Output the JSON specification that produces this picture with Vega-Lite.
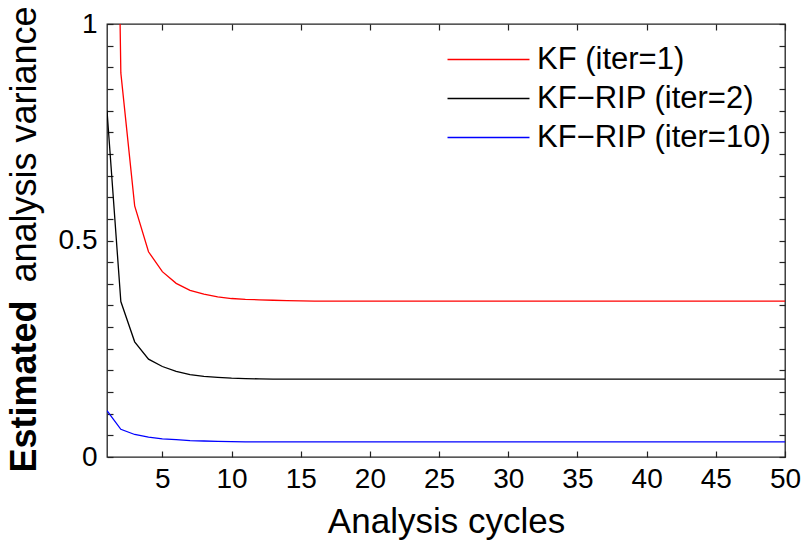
{
"$schema": "https://vega.github.io/schema/vega-lite/v6.json",
"width": 678, "height": 433,
"autosize": "none",
"padding": {"left": 107, "top": 24, "right": 22, "bottom": 87},
"background": "white",
"config": {"view": {"stroke": "#222", "strokeWidth": 1.3}, "font": "Liberation Sans",
  "axis": {"grid": false, "domain": false, "tickColor": "#222", "tickWidth": 1.2, "labelColor": "#000", "titleColor": "#000", "labelFont": "Liberation Sans", "titleFont": "Liberation Sans"}},
"data": {"values": [
{"c":1,"v":3.0,"m":"KF (iter=1)"},{"c":2,"v":0.887,"m":"KF (iter=1)"},{"c":3,"v":0.58,"m":"KF (iter=1)"},{"c":4,"v":0.474,"m":"KF (iter=1)"},{"c":5,"v":0.428,"m":"KF (iter=1)"},{"c":6,"v":0.401,"m":"KF (iter=1)"},{"c":7,"v":0.385,"m":"KF (iter=1)"},{"c":8,"v":0.376,"m":"KF (iter=1)"},{"c":9,"v":0.37,"m":"KF (iter=1)"},{"c":10,"v":0.366,"m":"KF (iter=1)"},
{"c":11,"v":0.364,"m":"KF (iter=1)"},{"c":12,"v":0.363,"m":"KF (iter=1)"},{"c":13,"v":0.362,"m":"KF (iter=1)"},{"c":14,"v":0.361,"m":"KF (iter=1)"},{"c":15,"v":0.3605,"m":"KF (iter=1)"},{"c":16,"v":0.36,"m":"KF (iter=1)"},{"c":17,"v":0.36,"m":"KF (iter=1)"},{"c":18,"v":0.36,"m":"KF (iter=1)"},{"c":19,"v":0.36,"m":"KF (iter=1)"},{"c":20,"v":0.36,"m":"KF (iter=1)"},
{"c":21,"v":0.36,"m":"KF (iter=1)"},{"c":22,"v":0.36,"m":"KF (iter=1)"},{"c":23,"v":0.36,"m":"KF (iter=1)"},{"c":24,"v":0.36,"m":"KF (iter=1)"},{"c":25,"v":0.36,"m":"KF (iter=1)"},{"c":26,"v":0.36,"m":"KF (iter=1)"},{"c":27,"v":0.36,"m":"KF (iter=1)"},{"c":28,"v":0.36,"m":"KF (iter=1)"},{"c":29,"v":0.36,"m":"KF (iter=1)"},{"c":30,"v":0.36,"m":"KF (iter=1)"},
{"c":31,"v":0.36,"m":"KF (iter=1)"},{"c":32,"v":0.36,"m":"KF (iter=1)"},{"c":33,"v":0.36,"m":"KF (iter=1)"},{"c":34,"v":0.36,"m":"KF (iter=1)"},{"c":35,"v":0.36,"m":"KF (iter=1)"},{"c":36,"v":0.36,"m":"KF (iter=1)"},{"c":37,"v":0.36,"m":"KF (iter=1)"},{"c":38,"v":0.36,"m":"KF (iter=1)"},{"c":39,"v":0.36,"m":"KF (iter=1)"},{"c":40,"v":0.36,"m":"KF (iter=1)"},
{"c":41,"v":0.36,"m":"KF (iter=1)"},{"c":42,"v":0.36,"m":"KF (iter=1)"},{"c":43,"v":0.36,"m":"KF (iter=1)"},{"c":44,"v":0.36,"m":"KF (iter=1)"},{"c":45,"v":0.36,"m":"KF (iter=1)"},{"c":46,"v":0.36,"m":"KF (iter=1)"},{"c":47,"v":0.36,"m":"KF (iter=1)"},{"c":48,"v":0.36,"m":"KF (iter=1)"},{"c":49,"v":0.36,"m":"KF (iter=1)"},{"c":50,"v":0.36,"m":"KF (iter=1)"},
{"c":1,"v":0.8,"m":"KF−RIP (iter=2)"},{"c":2,"v":0.359,"m":"KF−RIP (iter=2)"},{"c":3,"v":0.266,"m":"KF−RIP (iter=2)"},{"c":4,"v":0.226,"m":"KF−RIP (iter=2)"},{"c":5,"v":0.209,"m":"KF−RIP (iter=2)"},{"c":6,"v":0.198,"m":"KF−RIP (iter=2)"},{"c":7,"v":0.19,"m":"KF−RIP (iter=2)"},{"c":8,"v":0.186,"m":"KF−RIP (iter=2)"},{"c":9,"v":0.184,"m":"KF−RIP (iter=2)"},{"c":10,"v":0.182,"m":"KF−RIP (iter=2)"},
{"c":11,"v":0.181,"m":"KF−RIP (iter=2)"},{"c":12,"v":0.1805,"m":"KF−RIP (iter=2)"},{"c":13,"v":0.18,"m":"KF−RIP (iter=2)"},{"c":14,"v":0.18,"m":"KF−RIP (iter=2)"},{"c":15,"v":0.18,"m":"KF−RIP (iter=2)"},{"c":16,"v":0.18,"m":"KF−RIP (iter=2)"},{"c":17,"v":0.18,"m":"KF−RIP (iter=2)"},{"c":18,"v":0.18,"m":"KF−RIP (iter=2)"},{"c":19,"v":0.18,"m":"KF−RIP (iter=2)"},{"c":20,"v":0.18,"m":"KF−RIP (iter=2)"},
{"c":21,"v":0.18,"m":"KF−RIP (iter=2)"},{"c":22,"v":0.18,"m":"KF−RIP (iter=2)"},{"c":23,"v":0.18,"m":"KF−RIP (iter=2)"},{"c":24,"v":0.18,"m":"KF−RIP (iter=2)"},{"c":25,"v":0.18,"m":"KF−RIP (iter=2)"},{"c":26,"v":0.18,"m":"KF−RIP (iter=2)"},{"c":27,"v":0.18,"m":"KF−RIP (iter=2)"},{"c":28,"v":0.18,"m":"KF−RIP (iter=2)"},{"c":29,"v":0.18,"m":"KF−RIP (iter=2)"},{"c":30,"v":0.18,"m":"KF−RIP (iter=2)"},
{"c":31,"v":0.18,"m":"KF−RIP (iter=2)"},{"c":32,"v":0.18,"m":"KF−RIP (iter=2)"},{"c":33,"v":0.18,"m":"KF−RIP (iter=2)"},{"c":34,"v":0.18,"m":"KF−RIP (iter=2)"},{"c":35,"v":0.18,"m":"KF−RIP (iter=2)"},{"c":36,"v":0.18,"m":"KF−RIP (iter=2)"},{"c":37,"v":0.18,"m":"KF−RIP (iter=2)"},{"c":38,"v":0.18,"m":"KF−RIP (iter=2)"},{"c":39,"v":0.18,"m":"KF−RIP (iter=2)"},{"c":40,"v":0.18,"m":"KF−RIP (iter=2)"},
{"c":41,"v":0.18,"m":"KF−RIP (iter=2)"},{"c":42,"v":0.18,"m":"KF−RIP (iter=2)"},{"c":43,"v":0.18,"m":"KF−RIP (iter=2)"},{"c":44,"v":0.18,"m":"KF−RIP (iter=2)"},{"c":45,"v":0.18,"m":"KF−RIP (iter=2)"},{"c":46,"v":0.18,"m":"KF−RIP (iter=2)"},{"c":47,"v":0.18,"m":"KF−RIP (iter=2)"},{"c":48,"v":0.18,"m":"KF−RIP (iter=2)"},{"c":49,"v":0.18,"m":"KF−RIP (iter=2)"},{"c":50,"v":0.18,"m":"KF−RIP (iter=2)"},
{"c":1,"v":0.107,"m":"KF−RIP (iter=10)"},{"c":2,"v":0.064,"m":"KF−RIP (iter=10)"},{"c":3,"v":0.052,"m":"KF−RIP (iter=10)"},{"c":4,"v":0.046,"m":"KF−RIP (iter=10)"},{"c":5,"v":0.042,"m":"KF−RIP (iter=10)"},{"c":6,"v":0.04,"m":"KF−RIP (iter=10)"},{"c":7,"v":0.038,"m":"KF−RIP (iter=10)"},{"c":8,"v":0.037,"m":"KF−RIP (iter=10)"},{"c":9,"v":0.036,"m":"KF−RIP (iter=10)"},{"c":10,"v":0.0355,"m":"KF−RIP (iter=10)"},
{"c":11,"v":0.035,"m":"KF−RIP (iter=10)"},{"c":12,"v":0.035,"m":"KF−RIP (iter=10)"},{"c":13,"v":0.035,"m":"KF−RIP (iter=10)"},{"c":14,"v":0.035,"m":"KF−RIP (iter=10)"},{"c":15,"v":0.035,"m":"KF−RIP (iter=10)"},{"c":16,"v":0.035,"m":"KF−RIP (iter=10)"},{"c":17,"v":0.035,"m":"KF−RIP (iter=10)"},{"c":18,"v":0.035,"m":"KF−RIP (iter=10)"},{"c":19,"v":0.035,"m":"KF−RIP (iter=10)"},{"c":20,"v":0.035,"m":"KF−RIP (iter=10)"},
{"c":21,"v":0.035,"m":"KF−RIP (iter=10)"},{"c":22,"v":0.035,"m":"KF−RIP (iter=10)"},{"c":23,"v":0.035,"m":"KF−RIP (iter=10)"},{"c":24,"v":0.035,"m":"KF−RIP (iter=10)"},{"c":25,"v":0.035,"m":"KF−RIP (iter=10)"},{"c":26,"v":0.035,"m":"KF−RIP (iter=10)"},{"c":27,"v":0.035,"m":"KF−RIP (iter=10)"},{"c":28,"v":0.035,"m":"KF−RIP (iter=10)"},{"c":29,"v":0.035,"m":"KF−RIP (iter=10)"},{"c":30,"v":0.035,"m":"KF−RIP (iter=10)"},
{"c":31,"v":0.035,"m":"KF−RIP (iter=10)"},{"c":32,"v":0.035,"m":"KF−RIP (iter=10)"},{"c":33,"v":0.035,"m":"KF−RIP (iter=10)"},{"c":34,"v":0.035,"m":"KF−RIP (iter=10)"},{"c":35,"v":0.035,"m":"KF−RIP (iter=10)"},{"c":36,"v":0.035,"m":"KF−RIP (iter=10)"},{"c":37,"v":0.035,"m":"KF−RIP (iter=10)"},{"c":38,"v":0.035,"m":"KF−RIP (iter=10)"},{"c":39,"v":0.035,"m":"KF−RIP (iter=10)"},{"c":40,"v":0.035,"m":"KF−RIP (iter=10)"},
{"c":41,"v":0.035,"m":"KF−RIP (iter=10)"},{"c":42,"v":0.035,"m":"KF−RIP (iter=10)"},{"c":43,"v":0.035,"m":"KF−RIP (iter=10)"},{"c":44,"v":0.035,"m":"KF−RIP (iter=10)"},{"c":45,"v":0.035,"m":"KF−RIP (iter=10)"},{"c":46,"v":0.035,"m":"KF−RIP (iter=10)"},{"c":47,"v":0.035,"m":"KF−RIP (iter=10)"},{"c":48,"v":0.035,"m":"KF−RIP (iter=10)"},{"c":49,"v":0.035,"m":"KF−RIP (iter=10)"},{"c":50,"v":0.035,"m":"KF−RIP (iter=10)"}
]},
"layer": [
 {"mark": {"type": "line", "clip": true, "strokeWidth": 1.3},
  "encoding": {
   "x": {"field": "c", "type": "quantitative", "scale": {"domain": [1, 50], "nice": false, "zero": false},
     "axis": {"orient": "bottom", "offset": -6, "values": [5,10,15,20,25,30,35,40,45,50], "tickSize": 6, "labelFontSize": 28, "labelPadding": 8, "labelFlush": false,
       "title": "Analysis cycles", "titleFontSize": 35, "titleFontWeight": "normal", "titleX": 339, "titleY": 81, "titleAlign": "center", "titleBaseline": "alphabetic"}},
   "y": {"field": "v", "type": "quantitative", "scale": {"domain": [0, 1], "nice": false},
     "axis": {"orient": "left", "offset": -6, "values": [0,0.05,0.1,0.15,0.2,0.25,0.3,0.35,0.4,0.45,0.5,0.55,0.6,0.65,0.7,0.75,0.8,0.85,0.9,0.95,1],
       "labelExpr": "datum.value == 0 ? '0' : datum.value == 0.5 ? '0.5' : datum.value == 1 ? '1' : ''",
       "tickSize": 6, "labelFontSize": 28, "labelPadding": 10, "labelBaseline": "middle", "labelFlush": false,
       "title": "analysis variance", "titleFontSize": 36, "titleFontWeight": "normal", "titleAngle": 270, "titleAlign": "left", "titleBaseline": "alphabetic", "titleX": -78, "titleY": 258}},
   "color": {"field": "m", "type": "nominal", "sort": ["KF (iter=1)", "KF−RIP (iter=2)", "KF−RIP (iter=10)"],
     "scale": {"domain": ["KF (iter=1)", "KF−RIP (iter=2)", "KF−RIP (iter=10)"], "range": ["#ff0000", "#000000", "#0000ff"]},
     "legend": {"title": null, "orient": "none", "legendX": 366, "legendY": 20, "padding": 0, "symbolType": "M-4,0H4", "symbolSize": 420, "symbolStrokeWidth": 1.3,
       "labelFontSize": 31, "labelFont": "Liberation Sans", "labelColor": "#000", "labelOffset": 33, "rowPadding": 7, "labelLimit": 400}}
  }},
 {"mark": {"type": "point", "opacity": 0, "size": 0},
  "encoding": {
   "x": {"field": "c", "type": "quantitative",
     "axis": {"orient": "top", "offset": -6, "values": [5,10,15,20,25,30,35,40,45,50], "tickSize": 6, "labels": false, "title": null}},
   "y": {"field": "v", "type": "quantitative",
     "axis": {"orient": "right", "offset": -6, "values": [0,0.05,0.1,0.15,0.2,0.25,0.3,0.35,0.4,0.45,0.5,0.55,0.6,0.65,0.7,0.75,0.8,0.85,0.9,0.95,1], "tickSize": 6, "labels": false,
       "title": "Estimated", "titleFontSize": 36, "titleFontWeight": "bold", "titleAngle": 270, "titleAlign": "left", "titleBaseline": "alphabetic", "titleX": -744, "titleY": 448}}
  }}
],
"resolve": {"axis": {"x": "independent", "y": "independent"}}
}
